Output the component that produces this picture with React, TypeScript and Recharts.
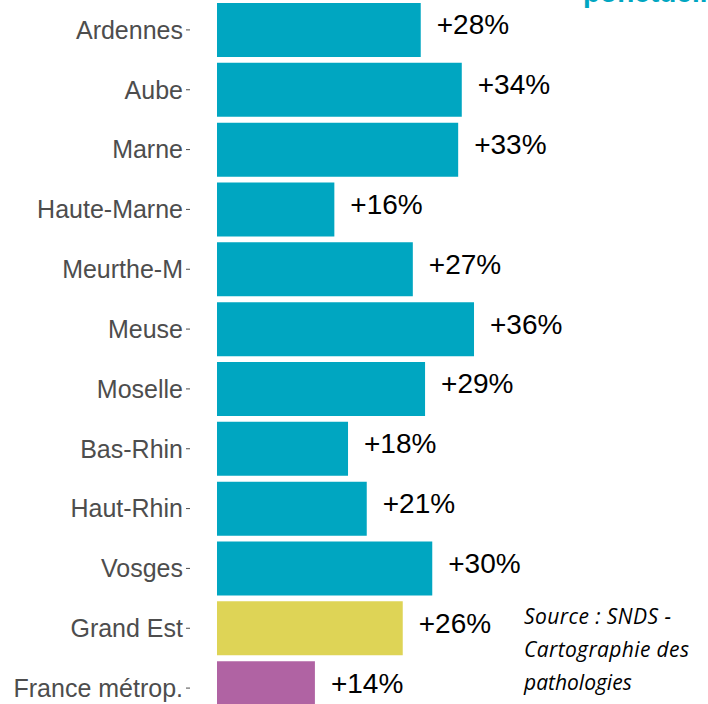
import { BarChart, Bar, XAxis, YAxis, Cell, LabelList } from 'recharts';

const categories = [
  'Ardennes',
  'Aube',
  'Marne',
  'Haute-Marne',
  'Meurthe-M',
  'Meuse',
  'Moselle',
  'Bas-Rhin',
  'Haut-Rhin',
  'Vosges',
  'Grand Est',
  'France métrop.',
];
const values = [28.3, 34.0, 33.5, 16.3, 27.2, 35.7, 28.9, 18.2, 20.8, 29.9, 25.8, 13.6];
const valueLabels = ['+28%', '+34%', '+33%', '+16%', '+27%', '+36%', '+29%', '+18%', '+21%', '+30%', '+26%', '+14%'];
const barColors = [
  '#00a6c1', '#00a6c1', '#00a6c1', '#00a6c1', '#00a6c1', '#00a6c1',
  '#00a6c1', '#00a6c1', '#00a6c1', '#00a6c1', '#ded456', '#b063a3',
];
const sourceLines = ['Source : SNDS -', 'Cartographie  des', 'pathologies'];
const sourceWidths = [147, 165, undefined];

const data = categories.map((name, i) => ({ name, value: values[i], label: valueLabels[i] }));

const ValueLabel = (props: any) => {
  const { x, y, width, height, index } = props;
  return (
    <text
      x={x + width + 16}
      y={y + height / 2 - 5}
      dominantBaseline="central"
      fontSize={28}
      fill="#000"
      fontFamily="'Liberation Sans', Arial, sans-serif"
    >
      {valueLabels[index]}
    </text>
  );
};

export default function App() {
  return (
    <div style={{ position: 'absolute', left: 0, top: 0, width: 708, height: 704, overflow: 'hidden', background: '#fff' }}>
      <BarChart
        width={708}
        height={718}
        data={data}
        layout="vertical"
        margin={{ top: 0, right: 0, left: 0, bottom: 0 }}
        barCategoryGap="5%"
      >
        <XAxis type="number" domain={[-3.75, 68.2]} hide />
        <YAxis
          type="category"
          dataKey="name"
          width={190}
          axisLine={false}
          tickLine={{ stroke: '#4d4d4d' }}
          tickSize={4}
          tickMargin={3}
          interval={0}
          tick={{ fill: '#4d4d4d', fontSize: 25, fontFamily: "'Liberation Sans', Arial, sans-serif" }}
        />
        <Bar dataKey="value" isAnimationActive={false}>
          {data.map((d, i) => (
            <Cell key={d.name} fill={barColors[i]} />
          ))}
          <LabelList dataKey="label" content={ValueLabel} />
        </Bar>
        <text
          x={583}
          y={2}
          fontSize={28}
          fontWeight="bold"
          fill="#00a6c1"
          fontFamily="'Liberation Sans', Arial, sans-serif"
        >
          ponctuelle
        </text>
        <text fontSize={21} fontStyle="italic" fill="#000" fontFamily="'Open Sans', 'Noto Sans', sans-serif">
          {sourceLines.map((line, i) => (
            <tspan
              key={line}
              x={524}
              y={624 + i * 33}
              textLength={sourceWidths[i]}
              lengthAdjust={sourceWidths[i] ? 'spacing' : undefined}
            >
              {line}
            </tspan>
          ))}
        </text>
      </BarChart>
    </div>
  );
}
